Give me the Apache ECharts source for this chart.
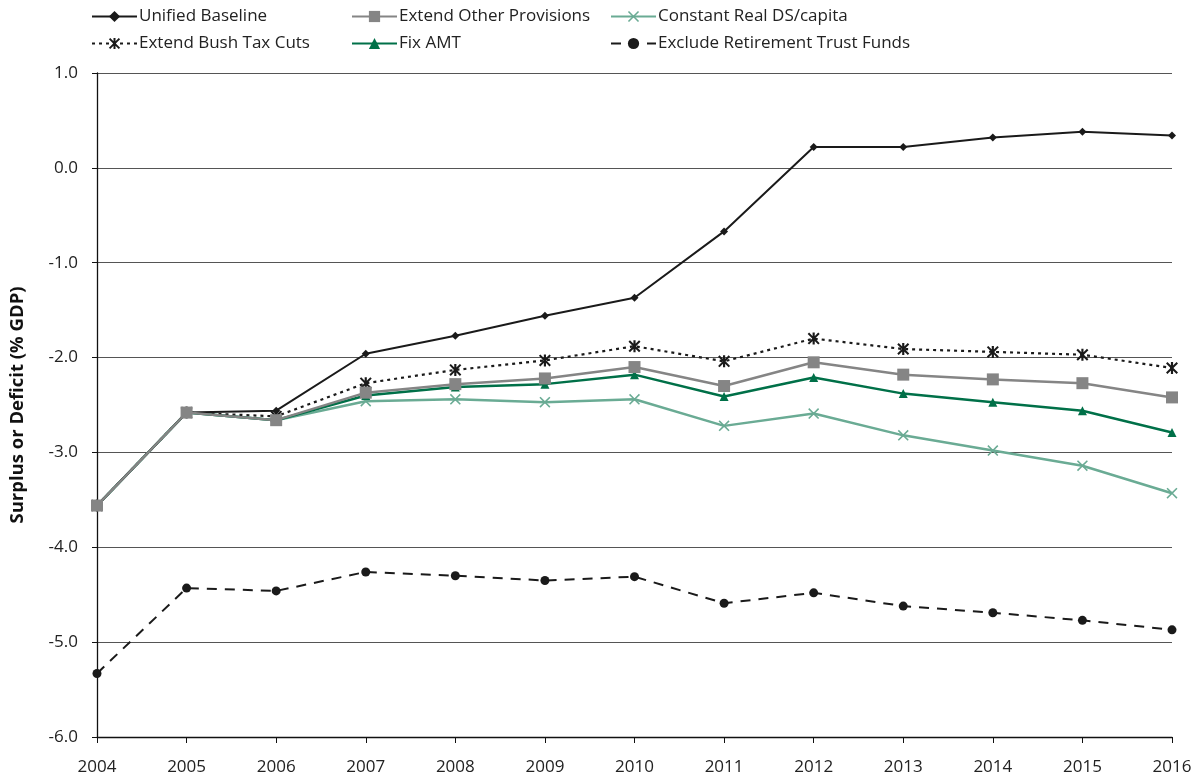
<!DOCTYPE html>
<html><head><meta charset="utf-8">
<script src="https://cdn.jsdelivr.net/npm/echarts@6/dist/echarts.min.js"></script>
<style>html,body{margin:0;padding:0;background:#fff}#c{width:1198px;height:782px}</style>
</head><body><div id="c"></div>
<script>
var years = ['2004','2005','2006','2007','2008','2009','2010','2011','2012','2013','2014','2015','2016'];
var unifiedBaseline = [-3.56,-2.58,-2.56,-1.96,-1.77,-1.56,-1.37,-0.67,0.22,0.22,0.32,0.38,0.34];
var extendBush = [-3.56,-2.58,-2.62,-2.27,-2.13,-2.03,-1.88,-2.04,-1.80,-1.91,-1.94,-1.97,-2.11];
var extendOther = [-3.56,-2.58,-2.66,-2.37,-2.28,-2.22,-2.10,-2.30,-2.05,-2.18,-2.23,-2.27,-2.42];
var fixAMT = [-3.56,-2.58,-2.66,-2.40,-2.31,-2.28,-2.18,-2.41,-2.21,-2.38,-2.47,-2.56,-2.79];
var constantDS = [-3.56,-2.58,-2.66,-2.46,-2.44,-2.47,-2.44,-2.72,-2.59,-2.82,-2.98,-3.14,-3.43];
var excludeTrust = [-5.33,-4.43,-4.46,-4.26,-4.30,-4.35,-4.31,-4.59,-4.48,-4.62,-4.69,-4.77,-4.87];

var FONT = 'Open Sans';
var xPath = 'path://M1,0L5,4L9,0L10,1L6,5L10,9L9,10L5,6L1,10L0,9L4,5L0,1Z';
var starPath = 'path://M1.2,0L5,3.8L8.8,0L10,1.2L6.2,5L10,8.8L8.8,10L5,6.2L1.2,10L0,8.8L3.8,5L0,1.2Z M4.1,0H5.9V10H4.1Z';

var chart = echarts.init(document.getElementById('c'));
function leg(left, names){
  return {left:left, top:3, orient:'vertical', itemWidth:45, itemHeight:14, itemGap:10,
    textStyle:{fontFamily:FONT, fontSize:17, lineHeight:14, color:'#222', padding:[0,0,0,-3]}, data:names};
}
chart.setOption({
  animation:false,
  textStyle:{fontFamily:FONT},
  legend:[leg(86,['Unified Baseline','Extend Bush Tax Cuts']),
          leg(346,['Extend Other Provisions','Fix AMT']),
          leg(605,['Constant Real DS/capita','Exclude Retirement Trust Funds'])],
  grid:{left:95, right:26, top:73, bottom:45, containLabel:false},
  xAxis:{type:'category', data:years, boundaryGap:false,
    axisLine:{onZero:false, lineStyle:{color:'#111', width:1.3}},
    axisTick:{show:true, length:6, lineStyle:{color:'#111'}},
    axisLabel:{fontFamily:FONT, fontSize:17, color:'#222', margin:22, interval:0},
    splitLine:{show:false}},
  yAxis:{type:'value', min:-6, max:1, interval:1,
    name:'Surplus or Deficit (% GDP)', nameLocation:'middle', nameGap:70,
    nameTextStyle:{fontFamily:FONT, fontSize:18.5, fontWeight:'bold', color:'#111'},
    axisLine:{show:true, lineStyle:{color:'#111', width:1.3}},
    axisTick:{show:true, length:5, lineStyle:{color:'#111'}},
    axisLabel:{fontFamily:FONT, fontSize:17, color:'#222', margin:19, formatter:function(v){return v.toFixed(1);}},
    splitLine:{show:true, lineStyle:{color:'#555', width:1.2}}},
  series:[
    {name:'Exclude Retirement Trust Funds', type:'line', data:excludeTrust, z:2,
     symbol:'circle', symbolSize:9, lineStyle:{color:'#1a1a1a', width:2, type:[10,8]}, itemStyle:{color:'#1a1a1a'}},
    {name:'Constant Real DS/capita', type:'line', data:constantDS, z:3,
     symbol:xPath, symbolSize:11, lineStyle:{color:'#6aab94', width:2.5}, itemStyle:{color:'#6aab94'}},
    {name:'Fix AMT', type:'line', data:fixAMT, z:4,
     symbol:'triangle', symbolSize:9, lineStyle:{color:'#007048', width:2.5}, itemStyle:{color:'#007048'}},
    {name:'Extend Bush Tax Cuts', type:'line', data:extendBush, z:5,
     symbol:starPath, symbolSize:12, lineStyle:{color:'#1a1a1a', width:2.2, type:[3,4]}, itemStyle:{color:'#1a1a1a'}},
    {name:'Unified Baseline', type:'line', data:unifiedBaseline, z:6,
     symbol:'diamond', symbolSize:8, lineStyle:{color:'#1a1a1a', width:2}, itemStyle:{color:'#1a1a1a'}},
    {name:'Extend Other Provisions', type:'line', data:extendOther, z:7,
     symbol:'rect', symbolSize:12, lineStyle:{color:'#858585', width:2.5}, itemStyle:{color:'#858585'}}
  ]
});
</script></body></html>
